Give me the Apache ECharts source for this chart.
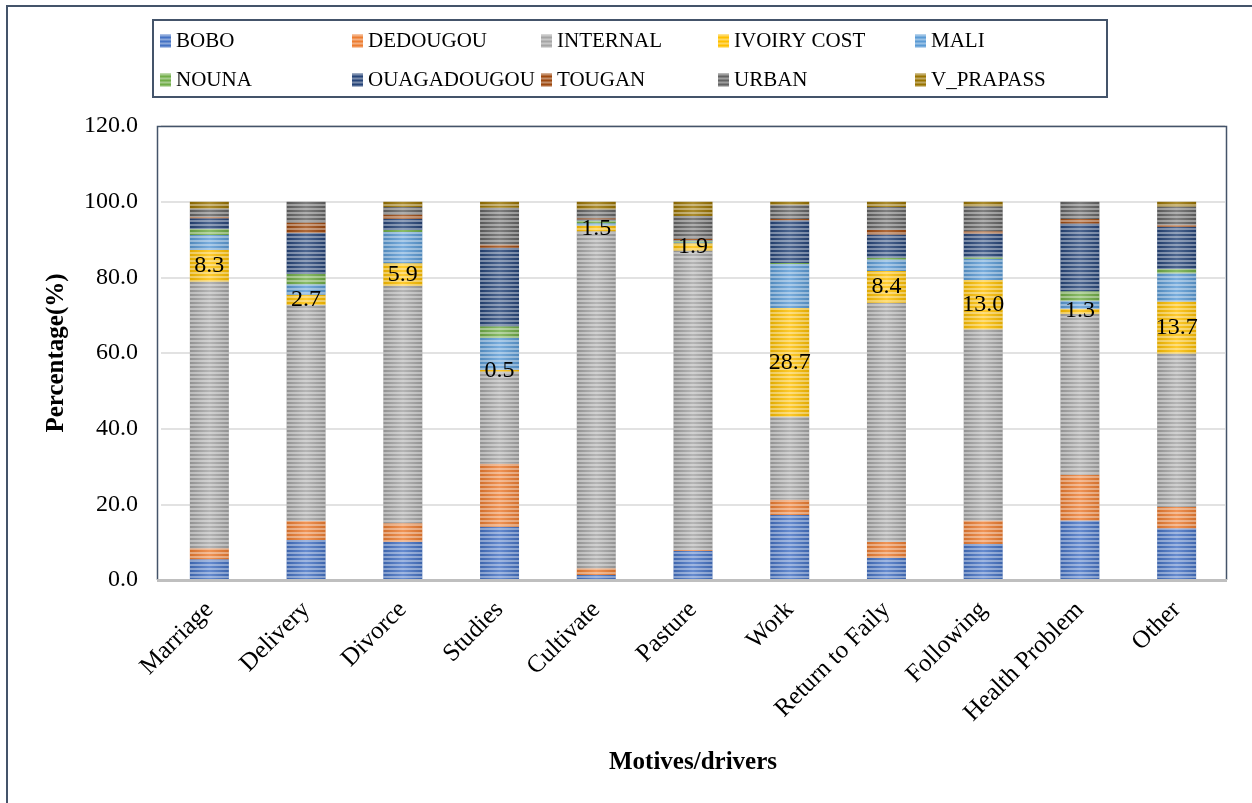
<!DOCTYPE html>
<html>
<head>
<meta charset="utf-8">
<title>Motives/drivers by destination</title>
<script src="https://cdn.jsdelivr.net/npm/echarts@6/dist/echarts.min.js"></script>
<style>
  html, body { margin: 0; padding: 0; background: #ffffff; }
  #chart { width: 1252px; height: 803px; }
</style>
</head>
<body>
<div id="chart"></div>
<script>
// Motives for moving, share (%) by destination
const categories = ['Marriage', 'Delivery', 'Divorce', 'Studies', 'Cultivate', 'Pasture',
  'Work', 'Return to Faily', 'Following', 'Health Problem', 'Other'];

const seriesNames = ['BOBO', 'DEDOUGOU', 'INTERNAL', 'IVOIRY COST', 'MALI',
  'NOUNA', 'OUAGADOUGOU', 'TOUGAN', 'URBAN', 'V_PRAPASS'];

const bobo        = [5.5, 10.6, 10.1, 14.1, 1.3, 7.7, 17.2, 5.9, 9.5, 15.7, 13.7];
const dedougou    = [2.9, 5.0, 4.9, 16.6, 1.8, 0.2, 4.0, 4.2, 6.2, 12.1, 5.6];
const internal    = [70.5, 57.1, 62.8, 24.4, 89.1, 79.2, 22.0, 63.2, 50.6, 42.6, 40.6];
const ivoiryCost  = [8.3, 2.7, 5.9, 0.5, 1.5, 1.9, 28.7, 8.4, 13.0, 1.3, 13.7];
const mali        = [4.0, 2.8, 8.3, 8.4, 0.6, 0.3, 11.6, 3.0, 5.6, 2.1, 7.5];
const nouna       = [1.6, 2.7, 0.5, 3.1, 0.7, 0.3, 0.3, 0.5, 0.4, 2.5, 1.1];
const ouagadougou = [2.8, 10.8, 3.0, 20.7, 0.3, 0.2, 11.3, 6.1, 6.3, 17.9, 11.2];
const tougan      = [0.4, 2.8, 1.1, 0.9, 0.3, 0.4, 0.3, 1.3, 0.6, 1.2, 0.5];
const urban       = [2.2, 5.5, 2.0, 9.7, 2.4, 6.0, 3.8, 6.0, 6.6, 4.6, 4.8];
const vPrapass    = [1.8, 0.0, 1.4, 1.6, 2.0, 3.8, 0.8, 1.4, 1.2, 0.0, 1.3];

const yTicks = [0, 20, 40, 60, 80, 100, 120];

const seriesValues = [bobo, dedougou, internal, ivoiryCost, mali,
  nouna, ouagadougou, tougan, urban, vPrapass];

const palette = ['#4472C4', '#ED7D31', '#A5A5A5', '#FFC000', '#5B9BD5',
  '#70AD47', '#264478', '#9E480E', '#636363', '#997300'];

// legend item anchor points (left, top)
const legendSpots = [
  [160, 30], [352, 30], [541, 30], [718, 30], [915, 30],
  [160, 69], [352, 69], [541, 69], [718, 69], [915, 69]
];

const FONT = '"Liberation Serif", "Times New Roman", serif';
const FRAME = '#44546A';

function shade(hex, amt) {
  const n = parseInt(hex.slice(1), 16);
  let r = (n >> 16) & 255, g = (n >> 8) & 255, b = n & 255;
  const f = c => Math.round(amt >= 0 ? c + (255 - c) * amt : c * (1 + amt));
  return 'rgb(' + f(r) + ',' + f(g) + ',' + f(b) + ')';
}

function barFill(hex) {
  return new echarts.graphic.LinearGradient(0, 0, 1, 0, [
    { offset: 0, color: shade(hex, -0.12) },
    { offset: 0.5, color: shade(hex, 0.18) },
    { offset: 1, color: shade(hex, -0.12) }
  ]);
}

const stripes = {
  symbol: 'rect',
  symbolSize: 1,
  dashArrayX: [[1, 0]],
  dashArrayY: [2, 2],
  color: 'rgba(255,255,255,0.38)',
  rotation: 0
};

const series = seriesNames.map((name, i) => ({
  name: name,
  type: 'bar',
  stack: 'total',
  barWidth: 39,
  data: seriesValues[i],
  itemStyle: { color: barFill(palette[i]), decal: stripes },
  emphasis: { disabled: true },
  label: name === 'IVOIRY COST' ? {
    show: true,
    position: 'inside',
    color: '#000000',
    fontFamily: FONT,
    fontSize: 24,
    formatter: p => p.value.toFixed(1)
  } : { show: false }
}));

const legends = seriesNames.map((name, i) => ({
  data: [{ name: name, itemStyle: { color: palette[i], decal: stripes } }],
  left: legendSpots[i][0],
  top: legendSpots[i][1],
  padding: 0,
  itemWidth: 11,
  itemHeight: 13,
  icon: 'rect',
  selectedMode: false,
  textStyle: { fontFamily: FONT, fontSize: 21, color: '#000000', lineHeight: 22 }
}));

const chart = echarts.init(document.getElementById('chart'), null, { renderer: 'canvas' });

chart.setOption({
  animation: false,
  backgroundColor: '#ffffff',
  color: palette,
  legend: legends,
  grid: { left: 161, right: 27, top: 126, bottom: 223, containLabel: false },
  xAxis: {
    type: 'category',
    data: categories,
    name: 'Motives/drivers',
    nameLocation: 'middle',
    nameGap: 170,
    nameTextStyle: { fontFamily: FONT, fontSize: 25, fontWeight: 'bold', color: '#000000' },
    axisLine: { show: true, lineStyle: { color: '#BFBFBF', width: 3 } },
    axisTick: { show: false },
    axisLabel: {
      rotate: 45,
      interval: 0,
      margin: 26,
      fontFamily: FONT,
      fontSize: 25,
      color: '#000000'
    }
  },
  yAxis: {
    type: 'value',
    min: 0,
    max: 120,
    interval: 20,
    name: 'Percentage(%)',
    nameLocation: 'middle',
    nameGap: 92,
    nameRotate: 90,
    nameTextStyle: { fontFamily: FONT, fontSize: 25, fontWeight: 'bold', color: '#000000' },
    axisLine: { show: false },
    axisTick: { show: false },
    splitLine: { show: true, lineStyle: { color: '#D9D9D9', width: 1.5 } },
    axisLabel: {
      margin: 23,
      fontFamily: FONT,
      fontSize: 24,
      color: '#000000',
      customValues: yTicks,
      formatter: v => v.toFixed(1)
    }
  },
  series: series,
  graphic: [
    {
      type: 'rect',
      silent: true,
      shape: { x: 7, y: 6, width: 1262, height: 820 },
      style: { fill: 'none', stroke: FRAME, lineWidth: 2 }
    },
    {
      type: 'rect',
      silent: true,
      shape: { x: 153, y: 20, width: 954, height: 77 },
      style: { fill: 'none', stroke: FRAME, lineWidth: 2 }
    },
    {
      type: 'polyline',
      silent: true,
      z: 10,
      shape: { points: [[157.5, 580], [157.5, 126.5], [1226.5, 126.5], [1226.5, 580]] },
      style: { fill: 'none', stroke: FRAME, lineWidth: 1.5 }
    },
    {
      type: 'line',
      silent: true,
      z: 10,
      shape: { x1: 157, y1: 580.5, x2: 1227, y2: 580.5 },
      style: { stroke: '#BFBFBF', lineWidth: 3 }
    }
  ]
});
</script>
</body>
</html>
